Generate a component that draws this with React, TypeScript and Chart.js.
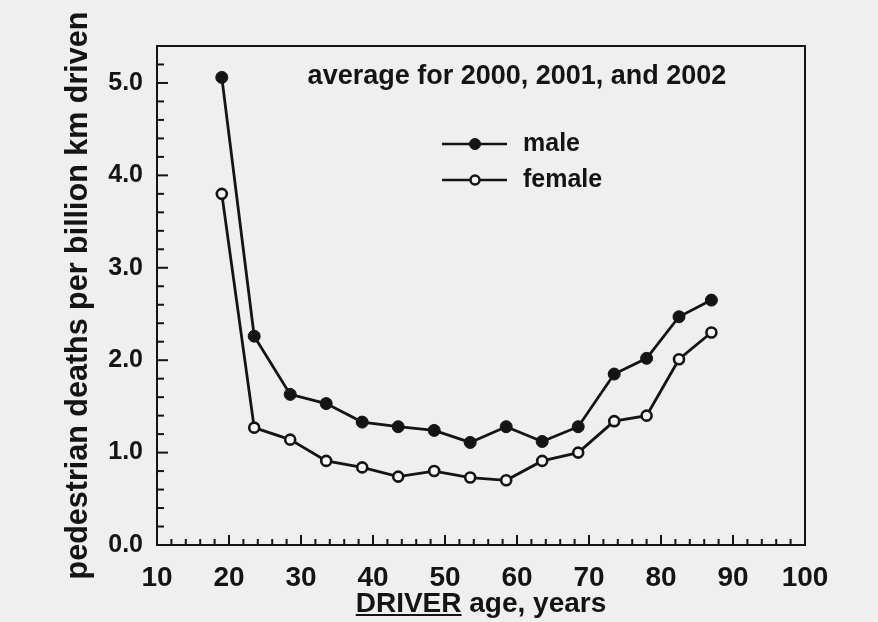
import React, { useEffect, useRef } from 'react';
import { Chart, registerables } from 'chart.js';

Chart.register(...registerables);

// ---- data ----
const AGES = [19, 23.5, 28.5, 33.5, 38.5, 43.5, 48.5, 53.5, 58.5, 63.5, 68.5, 73.5, 78, 82.5, 87];
const MALE = [5.06, 2.26, 1.63, 1.53, 1.33, 1.28, 1.24, 1.11, 1.28, 1.12, 1.28, 1.85, 2.02, 2.47, 2.65];
const FEMALE = [3.8, 1.27, 1.14, 0.91, 0.84, 0.74, 0.8, 0.73, 0.7, 0.91, 1.0, 1.34, 1.4, 2.01, 2.3];
const SERIES_NAMES = ['male', 'female'];
const X_TICKS = [10, 20, 30, 40, 50, 60, 70, 80, 90, 100];
const X_TICK_LABELS = ['10', '20', '30', '40', '50', '60', '70', '80', '90', '100'];
const Y_TICKS = [0, 1, 2, 3, 4, 5];
const Y_TICK_LABELS = ['0.0', '1.0', '2.0', '3.0', '4.0', '5.0'];
const TITLE = 'average for 2000, 2001, and 2002';
const X_TITLE_U = 'DRIVER';
const X_TITLE_REST = ' age, years';
const Y_TITLE = 'pedestrian deaths per billion km driven';

const INK = '#141414';
const BG = '#efefef';
const OPEN_FILL = '#f6f6f6';
const FONT = '"Liberation Sans", Arial, sans-serif';

const X_TITLE_SIZE = 28;
const X_TITLE_PADB = 1;

function labelFor(v: number, ticks: number[], labels: string[]) {
  const i = ticks.findIndex((t) => Math.abs(t - v) < 1e-6);
  return i >= 0 ? labels[i] : '';
}

const decor = {
  id: 'decor',
  beforeDraw(chart: any) {
    const { ctx, width, height } = chart;
    ctx.save();
    ctx.fillStyle = BG;
    ctx.fillRect(0, 0, width, height);
    ctx.restore();
  },
  afterDraw(chart: any) {
    const { ctx, chartArea: a, scales } = chart;
    const x = scales.x;
    const y = scales.y;
    ctx.save();
    ctx.strokeStyle = INK;
    ctx.lineWidth = 2;
    ctx.strokeRect(a.left, a.top, a.right - a.left, a.bottom - a.top);
    x.ticks.forEach((t: any) => {
      const px = x.getPixelForValue(t.value);
      const major = X_TICKS.some((m) => Math.abs(m - t.value) < 1e-6);
      if (px <= a.left + 1 || px >= a.right - 1) return;
      ctx.beginPath();
      ctx.moveTo(px, a.bottom);
      ctx.lineTo(px, a.bottom - (major ? 10 : 6));
      ctx.stroke();
    });
    y.ticks.forEach((t: any) => {
      const py = y.getPixelForValue(t.value);
      const major = Y_TICKS.some((m) => Math.abs(m - t.value) < 1e-6);
      if (py >= a.bottom - 1 || py <= a.top + 1) return;
      ctx.beginPath();
      ctx.moveTo(a.left, py);
      ctx.lineTo(a.left + (major ? 11 : 7), py);
      ctx.stroke();
    });

    // title inside plot
    ctx.fillStyle = INK;
    ctx.font = `bold 27px ${FONT}`;
    ctx.textAlign = 'center';
    ctx.textBaseline = 'alphabetic';
    ctx.fillText(TITLE, a.left + 360, a.top + 38);

    // legend
    const lx0 = a.left + 285;
    const lx1 = a.left + 350;
    const mx = a.left + 318;
    const rows = [a.top + 98, a.top + 134];
    ctx.font = `bold 25px ${FONT}`;
    ctx.textAlign = 'left';
    ctx.textBaseline = 'middle';
    rows.forEach((ry, i) => {
      ctx.lineWidth = 2.5;
      ctx.strokeStyle = INK;
      ctx.beginPath();
      ctx.moveTo(lx0, ry);
      ctx.lineTo(lx1, ry);
      ctx.stroke();
      ctx.beginPath();
      ctx.arc(mx, ry, i === 0 ? 5.5 : 4.5, 0, Math.PI * 2);
      ctx.fillStyle = i === 0 ? INK : OPEN_FILL;
      ctx.fill();
      ctx.lineWidth = i === 0 ? 1 : 2.5;
      ctx.stroke();
      ctx.fillStyle = INK;
      ctx.fillText(SERIES_NAMES[i], a.left + 366, ry);
    });

    // underline under DRIVER
    ctx.font = `bold ${X_TITLE_SIZE}px ${FONT}`;
    ctx.textBaseline = 'middle';
    const full = ctx.measureText(X_TITLE_U + X_TITLE_REST).width;
    const mU = ctx.measureText(X_TITLE_U);
    const cx = (x.left + x.right) / 2;
    const titleY = x.bottom - (X_TITLE_SIZE * 1.2) / 2 - X_TITLE_PADB;
    const uy = titleY + mU.actualBoundingBoxDescent + 3;
    ctx.lineWidth = 2;
    ctx.strokeStyle = INK;
    ctx.beginPath();
    ctx.moveTo(cx - full / 2, uy);
    ctx.lineTo(cx - full / 2 + mU.width, uy);
    ctx.stroke();
    ctx.restore();
  },
};

export default function App() {
  const ref = useRef<HTMLCanvasElement | null>(null);
  useEffect(() => {
    document.body.style.margin = '0';
    document.body.style.background = BG;
    const canvas = ref.current;
    if (!canvas) return;
    const chart = new Chart(canvas, {
      type: 'line',
      data: {
        datasets: [
          {
            label: SERIES_NAMES[0],
            data: AGES.map((a, i) => ({ x: a, y: MALE[i] })),
            borderColor: INK,
            borderWidth: 2.8,
            pointRadius: 6,
            pointBackgroundColor: INK,
            pointBorderColor: INK,
            pointBorderWidth: 1,
            tension: 0,
          },
          {
            label: SERIES_NAMES[1],
            data: AGES.map((a, i) => ({ x: a, y: FEMALE[i] })),
            borderColor: INK,
            borderWidth: 2.8,
            pointRadius: 5,
            pointBackgroundColor: OPEN_FILL,
            pointBorderColor: INK,
            pointBorderWidth: 2.6,
            tension: 0,
          },
        ],
      },
      options: {
        responsive: false,
        animation: false,
        devicePixelRatio: 1,
        layout: { padding: { top: 46, right: 73, left: 0, bottom: 0 } },
        plugins: { legend: { display: false }, tooltip: { enabled: false } },
        scales: {
          x: {
            type: 'linear',
            min: 10,
            max: 100,
            grid: { display: false, drawTicks: false, tickLength: 0 },
            border: { display: false },
            ticks: {
              stepSize: 2,
              autoSkip: false,
              maxRotation: 0,
              padding: 16,
              color: INK,
              font: { family: FONT, size: 28, weight: 'bold' },
              callback: (v: any) => labelFor(Number(v), X_TICKS, X_TICK_LABELS),
            },
            title: {
              display: true,
              text: X_TITLE_U + X_TITLE_REST,
              color: INK,
              font: { family: FONT, size: X_TITLE_SIZE, weight: 'bold' },
              padding: { top: 0, bottom: X_TITLE_PADB },
            },
            afterFit: (s: any) => {
              s.height = 77;
            },
          },
          y: {
            type: 'linear',
            min: 0,
            max: 5.4,
            grid: { display: false, drawTicks: false, tickLength: 0 },
            border: { display: false },
            ticks: {
              stepSize: 0.2,
              autoSkip: false,
              padding: 14,
              color: INK,
              font: { family: FONT, size: 25, weight: 'bold' },
              callback: (v: any) => labelFor(Number(v), Y_TICKS, Y_TICK_LABELS),
            },
            title: {
              display: true,
              text: Y_TITLE,
              color: INK,
              font: { family: FONT, size: 30.5, weight: 'bold' },
              padding: { top: 60, bottom: 0 },
            },
            afterFit: (s: any) => {
              s.width = 157;
            },
          },
        },
      },
      plugins: [decor],
    } as any);
    return () => chart.destroy();
  }, []);
  return (
    <div style={{ position: 'absolute', left: 0, top: 0, width: 878, height: 622 }}>
      <canvas ref={ref} width={878} height={622} />
    </div>
  );
}
